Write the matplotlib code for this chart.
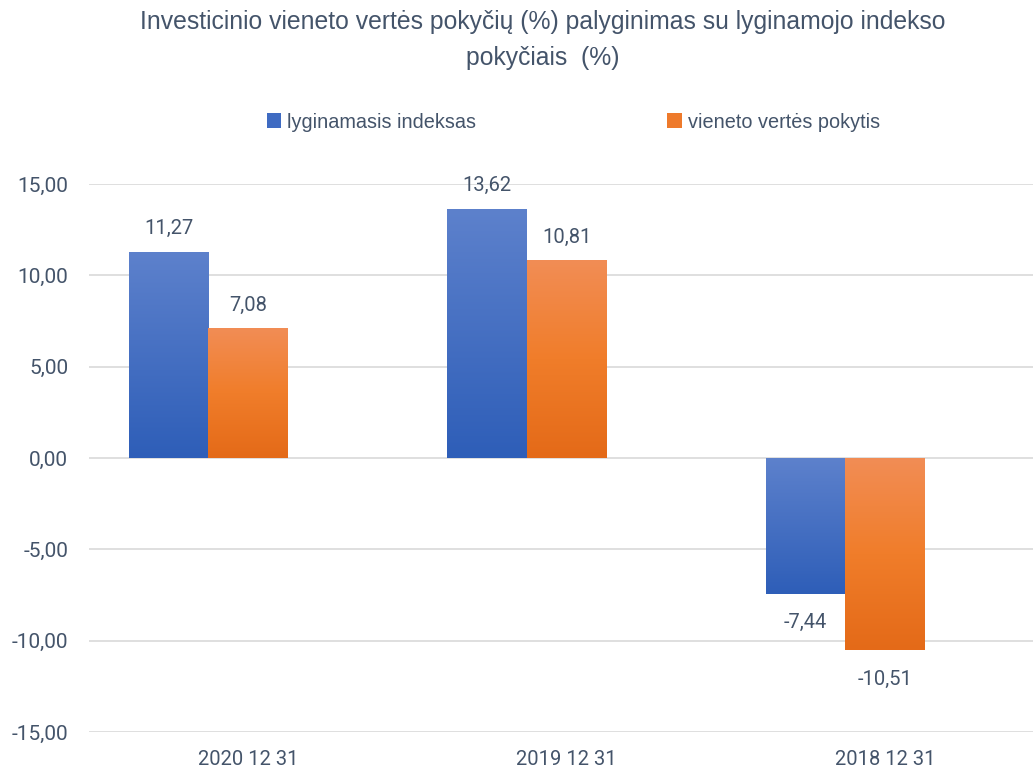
import matplotlib
matplotlib.use("Agg")
import matplotlib.pyplot as plt
import numpy as np
from matplotlib.patches import Patch
from matplotlib.colors import LinearSegmentedColormap

categories = ["2020 12 31", "2019 12 31", "2018 12 31"]
index_values = [11.27, 13.62, -7.44]
unit_values = [7.08, 10.81, -10.51]
series_names = ["lyginamasis indeksas", "vieneto vertės pokytis"]
yticks = [-15, -10, -5, 0, 5, 10, 15]

TXT = "#44546A"
NUMFONT = ["Roboto", "DejaVu Sans"]
NARROW = ["Liberation Sans Narrow", "Liberation Sans", "DejaVu Sans"]

blue_cmap = LinearSegmentedColormap.from_list("b", ["#5D81CC", "#2E5EB8"])
orange_cmap = LinearSegmentedColormap.from_list("o", ["#F28D55", "#F07D2A", "#E46A18"])

fig = plt.figure(figsize=(10.33, 7.69), dpi=100)
ax = fig.add_axes([89/1033, 1 - 732/769, 1 - 89/1033, (732-184)/769])

x = np.arange(len(categories))
w = 0.25
b1 = ax.bar(x - 0.25, index_values, w, color="none", edgecolor="none", zorder=3)
b2 = ax.bar(x, unit_values, w, color="none", edgecolor="none", zorder=3)

grad = np.linspace(0, 1, 256).reshape(-1, 1)
for bars, cmap in ((b1, blue_cmap), (b2, orange_cmap)):
    for p in bars:
        x0, y0 = p.get_x(), p.get_y()
        x1, y1 = x0 + p.get_width(), y0 + p.get_height()
        top, bot = max(y0, y1), min(y0, y1)
        ax.imshow(grad, cmap=cmap, extent=(x0, x1, bot, top), origin="upper",
                  aspect="auto", zorder=3, interpolation="bicubic")

for bars, vals in ((b1, index_values), (b2, unit_values)):
    for p, v in zip(bars, vals):
        cx = p.get_x() + p.get_width() / 2
        lab = f"{v:.2f}".replace(".", ",")
        if v >= 0:
            ax.annotate(lab, (cx, v), xytext=(0, 10), textcoords="offset points",
                        ha="center", va="bottom", fontsize=14.5, color=TXT, family=NUMFONT)
        else:
            ax.annotate(lab, (cx, v), xytext=(0, -14), textcoords="offset points",
                        ha="center", va="top", fontsize=14.5, color=TXT, family=NUMFONT)

ax.set_xlim(-0.5, 2.465)
ax.set_ylim(-15, 15)
ax.set_yticks(yticks)
ax.set_yticklabels([f"{v:.2f}".replace(".", ",") for v in yticks],
                   fontsize=15, color=TXT, family=NUMFONT)
ax.set_xticks(x)
ax.set_xticklabels(categories, fontsize=14.5, color=TXT, family=NUMFONT)
ax.tick_params(length=0)
ax.tick_params(axis="y", pad=15)
ax.tick_params(axis="x", pad=13)
ax.grid(axis="y", color="#D9D9D9", linewidth=1.2, zorder=0)
ax.set_axisbelow(True)
for s in ax.spines.values():
    s.set_visible(False)

fig.text(543/1033, 1 - 22/769, "Investicinio vieneto vertės pokyčių (%) palyginimas su lyginamojo indekso",
         ha="center", va="center", fontsize=17.8, color=TXT, family=NARROW)
fig.text(543/1033, 1 - 58/769, "pokyčiais  (%)",
         ha="center", va="center", fontsize=17.8, color=TXT, family=NARROW)

handles = [Patch(facecolor="#3F6BC2"), Patch(facecolor="#EE7A2B")]
leg = fig.legend(handles, series_names, loc="center", bbox_to_anchor=(0.555, 1 - 122/769),
                 ncol=2, frameon=False, handlelength=0.75, handleheight=0.75,
                 handletextpad=0.3, columnspacing=9.6,
                 prop={"family": NARROW, "size": 14.3})
for t in leg.get_texts():
    t.set_color(TXT)

fig.savefig("out.png", dpi=100)
